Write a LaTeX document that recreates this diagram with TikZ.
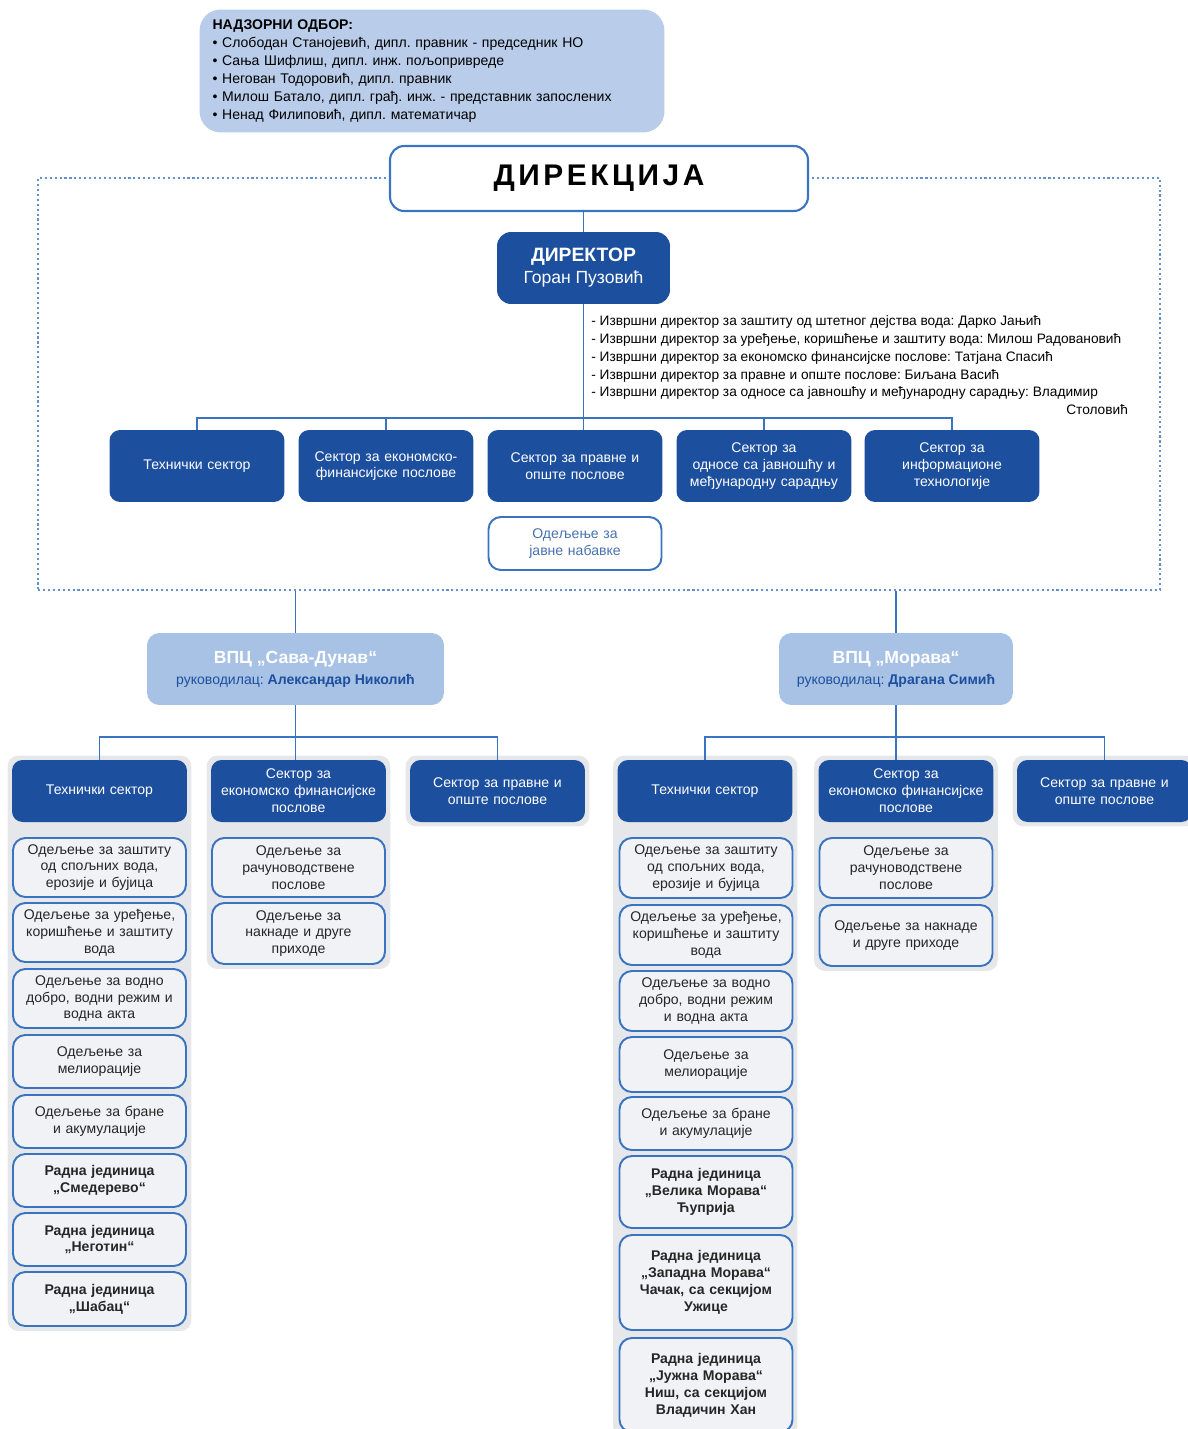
\documentclass[tikz,border=0pt]{standalone}
\usepackage{fontspec}
\setmainfont{Liberation Sans}
\newfontfamily\spacedfont[LetterSpace=12]{Liberation Sans}
\usetikzlibrary{fit,backgrounds}
\frenchspacing

\definecolor{dblue}{HTML}{1D4F9F}
\definecolor{lblue}{HTML}{3A74C1}
\definecolor{vpcblue}{HTML}{A8C2E5}
\definecolor{boardblue}{HTML}{B9CDEA}
\definecolor{panelgrey}{HTML}{E6E7EB}
\definecolor{unitgrey}{HTML}{F1F2F5}

\tikzset{
  small/.style={font=\fontsize{8}{9.6}\selectfont},
  sect/.style={small, rounded corners=6pt, fill=dblue, text=white, align=center,
    text width=3.3cm, inner xsep=0.1cm, inner ysep=0pt},
  unit/.style={small, rounded corners=7pt, draw=lblue, line width=1.1pt, fill=unitgrey,
    text=black!85, align=center, text width=3.26cm, inner xsep=0.1cm, inner ysep=0pt},
  ru/.style={unit, font=\fontsize{8}{9.6}\selectfont\bfseries},
  vpc/.style={rounded corners=7pt, fill=vpcblue, align=center, minimum height=1.44cm},
  panel/.style={fill=panelgrey, rounded corners=6pt, inner sep=0.08cm},
  link/.style={draw=lblue, line width=1.1pt},
}

\begin{document}
\begin{tikzpicture}[x=0.02cm, y=-0.02cm]
  \useasboundingbox (0,0) rectangle (1187,1429);

  % board
  \node[rounded corners=12pt, fill=boardblue, minimum height=2.46cm, text width=8.78cm,
    align=left, inner xsep=0.26cm, font=\fontsize{8}{10.2}\selectfont] (board) at (432,71)
    {\textbf{НАДЗОРНИ ОДБОР:}\\
     • Слободан Станојевић, дипл. правник - председник НО\\
     • Сања Шифлиш, дипл. инж. пољопривреде\\
     • Негован Тодоровић, дипл. правник\\
     • Милош Батало, дипл. грађ. инж. - представник запослених\\
     • Ненад Филиповић, дипл. математичар};

  % direction frame
  \node[draw=lblue!80, dash pattern=on 1.2pt off 1.6pt, line width=0.9pt,
    minimum width=22.44cm, minimum height=8.24cm, inner sep=0] (frame) at (599,384) {};
  \node[draw=lblue, line width=1.2pt, fill=white, rounded corners=8pt, minimum width=8.36cm,
    minimum height=1.3cm, font=\spacedfont\fontsize{17}{20}\selectfont\bfseries] (dir) at (599,178.5) {ДИРЕКЦИЈА};
  \node[sect, minimum height=1.44cm, text width=3.26cm, rounded corners=8pt] (ceo) at (583.5,268)
    {{\fontsize{11}{13}\selectfont\bfseries ДИРЕКТОР}\\[3pt]{\fontsize{10}{12}\selectfont Горан Пузовић}};
  \node[anchor=north west, inner sep=0, align=left, font=\fontsize{7.8}{10.2}\selectfont] (exec) at (591,315)
    {- Извршни директор за заштиту од штетног дејства вода: Дарко Јањић\\
     - Извршни директор за уређење, коришћење и заштиту вода: Милош Радовановић\\
     - Извршни директор за економско финансијске послове: Татјана Спасић\\
     - Извршни директор за правне и опште послове: Биљана Васић\\
     - Извршни директор за односе са јавношћу и међународну сарадњу: Владимир\\
     \hspace*{9.5cm}Столовић};

  \begin{scope}[every node/.append style={minimum height=1.44cm}]
    \node[sect] (s1) at (197,466) {Технички сектор};
    \node[sect] (s2) at (386,466) {Сектор за економско-\\финансијске послове};
    \node[sect] (s3) at (575,466) {Сектор за правне и\\опште послове};
    \node[sect] (s4) at (764,466) {Сектор за\\односе са јавношћу и\\међународну сарадњу};
    \node[sect] (s5) at (952,466) {Сектор за\\информационе\\технологије};
  \end{scope}
  \node[unit, minimum height=1.06cm, fill=white, text=dblue!80] (pn) at (575,543.5) {Одељење за\\јавне набавке};

  \coordinate (bus0) at (ceo.south |- 0,418);
  \draw[link] (dir.south -| ceo.north) -- (ceo.north);
  \draw[link] (ceo.south) -- (ceo.south |- s3.north);
  \draw[link] (s1.north) |- (bus0) -| (s5.north);
  \draw[link] (s2.north) -- (s2.north |- bus0);
  \draw[link] (s4.north) -- (s4.north |- bus0);

  % water centres
  \node[vpc, minimum width=5.94cm] (vpc1) at (295.5,669)
    {{\color{white}\fontsize{10}{12}\selectfont\bfseries ВПЦ „Сава-Дунав“}\\
     {\color{dblue}\fontsize{8}{10}\selectfont руководилац: \textbf{Александар Николић}}};
  \node[vpc, minimum width=4.68cm] (vpc2) at (896,669)
    {{\color{white}\fontsize{10}{12}\selectfont\bfseries ВПЦ „Морава“}\\
     {\color{dblue}\fontsize{8}{10}\selectfont руководилац: \textbf{Драгана Симић}}};
  \draw[link] (frame.south -| vpc1.north) -- (vpc1.north);
  \draw[link] (frame.south -| vpc2.north) -- (vpc2.north);

  % Sava-Dunav
  \begin{scope}[every node/.append style={minimum height=1.24cm}]
    \node[sect] (a1) at (99.5,791) {Технички сектор};
    \node[sect] (a2) at (298.5,791) {Сектор за\\економско финансијске\\послове};
    \node[sect] (a3) at (497.5,791) {Сектор за правне и\\опште послове};
  \end{scope}
  \node[unit, minimum height=1.18cm] (u1) at (99.5,867.5) {Одељење за заштиту\\од спољних вода,\\ерозије и бујица};
  \node[unit, minimum height=1.18cm] (u2) at (99.5,932.5) {Одељење за уређење,\\коришћење и заштиту\\вода};
  \node[unit, minimum height=1.18cm] (u3) at (99.5,998.5) {Одељење за водно\\добро, водни режим и\\водна акта};
  \node[unit, minimum height=1.06cm] (u4) at (99.5,1061.5) {Одељење за\\мелиорације};
  \node[unit, minimum height=1.06cm] (u5) at (99.5,1121.5) {Одељење за бране\\и акумулације};
  \node[ru, minimum height=1.06cm] (u6) at (99.5,1180.5) {Радна јединица\\„Смедерево“};
  \node[ru, minimum height=1.06cm] (u7) at (99.5,1239.5) {Радна јединица\\„Неготин“};
  \node[ru, minimum height=1.08cm] (u8) at (99.5,1299) {Радна јединица\\„Шабац“};
  \node[unit, minimum height=1.18cm] (v1) at (298.5,867.5) {Одељење за\\рачуноводствене\\послове};
  \node[unit, minimum height=1.22cm] (v2) at (298.5,933.5) {Одељење за\\накнаде и друге\\приходе};

  \coordinate (bus1) at (vpc1.south |- 0,737);
  \draw[link] (vpc1.south) -- (vpc1.south |- a2.north);
  \draw[link] (a1.north) |- (bus1) -| (a3.north);

  % Morava
  \begin{scope}[every node/.append style={minimum height=1.24cm}]
    \node[sect] (b1) at (705,791) {Технички сектор};
    \node[sect] (b2) at (906,791) {Сектор за\\економско финансијске\\послове};
    \node[sect] (b3) at (1104.5,791) {Сектор за правне и\\опште послове};
  \end{scope}
  \node[unit, minimum height=1.2cm] (w1) at (706,868) {Одељење за заштиту\\од спољних вода,\\ерозије и бујица};
  \node[unit, minimum height=1.2cm] (w2) at (706,935) {Одељење за уређење,\\коришћење и заштиту\\вода};
  \node[unit, minimum height=1.2cm] (w3) at (706,1001) {Одељење за водно\\добро, водни режим\\и водна акта};
  \node[unit, minimum height=1.1cm] (w4) at (706,1064.5) {Одељење за\\мелиорације};
  \node[unit, minimum height=1.06cm] (w5) at (706,1123.5) {Одељење за бране\\и акумулације};
  \node[ru, minimum height=1.44cm] (w6) at (706,1192) {Радна јединица\\„Велика Морава“\\Ћуприја};
  \node[ru, minimum height=1.9cm] (w7) at (706,1282.5) {Радна јединица\\„Западна Морава“\\Чачак, са секцијом\\Ужице};
  \node[ru, minimum height=1.88cm] (w8) at (706,1385) {Радна јединица\\„Јужна Морава“\\Ниш, са секцијом\\Владичин Хан};
  \node[unit, minimum height=1.2cm] (x1) at (906,868) {Одељење за\\рачуноводствене\\послове};
  \node[unit, minimum height=1.22cm] (x2) at (906,935.5) {Одељење за накнаде\\и друге приходе};

  \coordinate (bus2) at (vpc2.south |- 0,737);
  \draw[link] (vpc2.south) -- (vpc2.south |- b2.north);
  \draw[link] (b1.north) |- (bus2) -| (b3.north);

  \begin{scope}[on background layer]
    \node[panel, fit=(a1)(u8)] (p1) {};
    \node[panel, fit=(a2)(v2)] (p2) {};
    \node[panel, fit=(a3)] (p3) {};
    \node[panel, fit=(b1)(w8)] (p4) {};
    \node[panel, fit=(b2)(x2)] (p5) {};
    \node[panel, fit=(b3)] (p6) {};
  \end{scope}
\end{tikzpicture}
\end{document}
